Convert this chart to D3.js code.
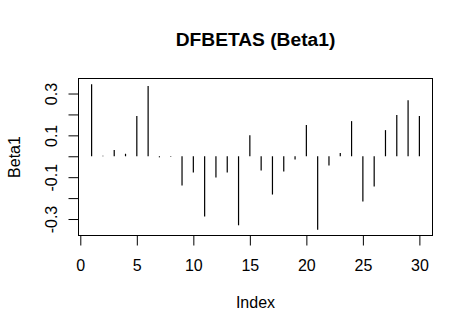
<!DOCTYPE html>
<html>
<head>
<meta charset="utf-8">
<script src="https://cdn.jsdelivr.net/npm/d3@7"></script>
<style>
  html, body { margin: 0; padding: 0; background: #fff; }
  svg text { font-family: "Liberation Sans", Arial, sans-serif; fill: #000; }
</style>
</head>
<body>
<svg id="chart" width="473" height="333"></svg>
<script>
const index = d3.range(1, 31);
const beta1 = [0.344, 0.003, 0.030, 0.012, 0.192, 0.336, -0.005, -0.002, -0.140, -0.078,
               -0.288, -0.102, -0.078, -0.330, 0.101, -0.068, -0.183, -0.073, -0.016, 0.149,
               -0.351, -0.044, 0.016, 0.168, -0.216, -0.145, 0.125, 0.197, 0.268, 0.192];
const xTicks = [0, 5, 10, 15, 20, 25, 30];
const yTicks = [-0.3, -0.2, -0.1, 0, 0.1, 0.2, 0.3];
const yTickLabels = ["-0.3", "", "-0.1", "", "0.1", "", "0.3"];
const title = "DFBETAS (Beta1)";
const xLabel = "Index";
const yLabel = "Beta1";

const svg = d3.select("#chart");
const L = 78.5, R = 432.5, T = 78.5, B = 235.5;

function pad(ext) { const d = (ext[1] - ext[0]) * 0.04; return [ext[0] - d, ext[1] + d]; }
const x = d3.scaleLinear().domain(pad(d3.extent(index))).range([L, R]);
const y = d3.scaleLinear().domain(pad(d3.extent(beta1))).range([B, T]);

// box
svg.append("rect").attr("x", L).attr("y", T).attr("width", R - L).attr("height", B - T)
  .attr("fill", "none").attr("stroke", "#000").attr("stroke-width", 1);

// vertical lines (type = "h")
svg.append("g").selectAll("line").data(index).join("line")
  .attr("x1", d => x(d)).attr("x2", d => x(d))
  .attr("y1", y(0)).attr("y2", (d, i) => y(beta1[i]))
  .attr("stroke", "#000").attr("stroke-width", 1.2);

// x axis
const xAxis = d3.axisBottom(x).tickValues(xTicks).tickSize(10).tickPadding(14).tickFormat(d3.format("d"));
const gx = svg.append("g").attr("transform", `translate(0,${B})`).call(xAxis);
gx.select(".domain").attr("d", `M${x(0)},0H${x(30)}`);
gx.selectAll("text").attr("font-size", 16).attr("font-family", "Liberation Sans, Arial, sans-serif");

// y axis
const yAxis = d3.axisLeft(y).tickValues(yTicks).tickSize(10).tickFormat((d, i) => yTickLabels[i]);
const gy = svg.append("g").attr("transform", `translate(${L},0)`).call(yAxis);
gy.select(".domain").attr("d", `M0,${y(-0.3)}V${y(0.3)}`);
gy.selectAll(".tick text")
  .attr("x", null).attr("dy", null)
  .attr("font-size", 16).attr("font-family", "Liberation Sans, Arial, sans-serif")
  .attr("text-anchor", "middle")
  .attr("transform", "translate(-22,0) rotate(-90)");

// title
svg.append("text").attr("x", (L + R) / 2).attr("y", 45.5).attr("text-anchor", "middle")
  .attr("font-size", 19.2).attr("font-weight", "bold").text(title);
// x label
svg.append("text").attr("x", (L + R) / 2).attr("y", 308).attr("text-anchor", "middle")
  .attr("font-size", 16).text(xLabel);
// y label
svg.append("text").attr("transform", `translate(20,${(T + B) / 2}) rotate(-90)`)
  .attr("text-anchor", "middle").attr("font-size", 16).text(yLabel);
</script>
</body>
</html>
